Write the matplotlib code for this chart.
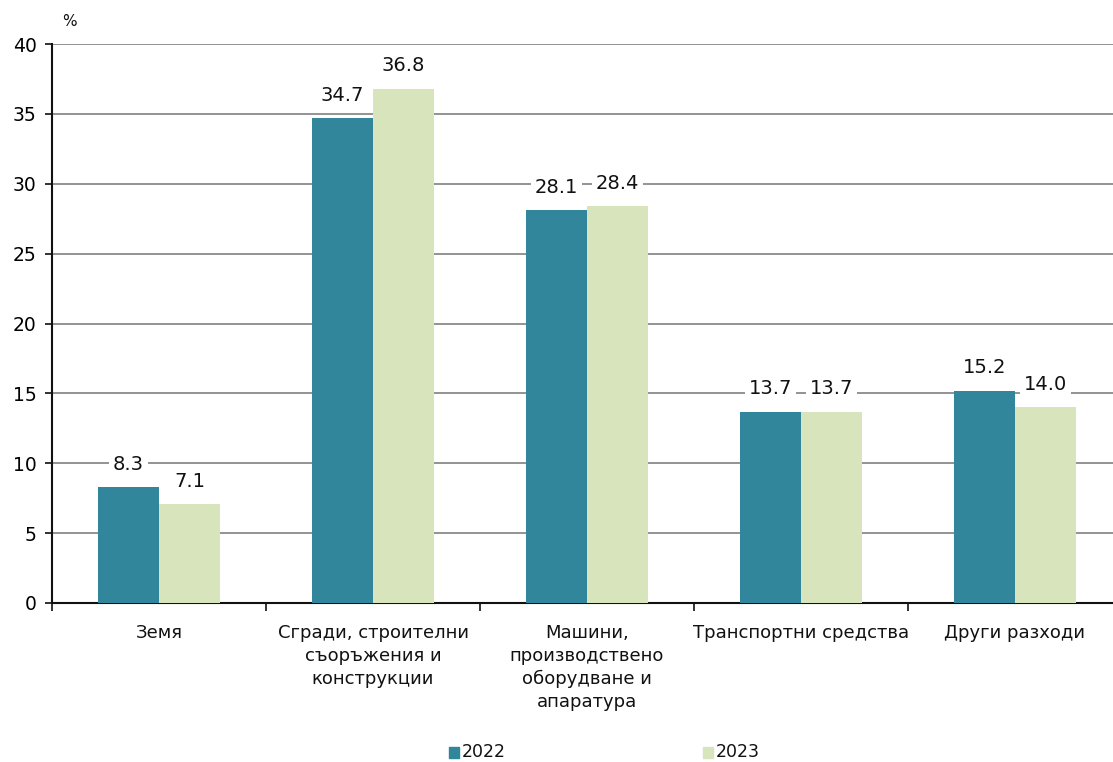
import matplotlib
matplotlib.use("Agg")
import matplotlib.pyplot as plt
import numpy as np
from matplotlib.patches import Rectangle

categories = ["Земя", "Сгради, строителни\nсъоръжения и\nконструкции",
              "Машини,\nпроизводствено\nоборудване и\nапаратура",
              "Транспортни средства", "Други разходи"]
values_2022 = [8.3, 34.7, 28.1, 13.7, 15.2]
values_2023 = [7.1, 36.8, 28.4, 13.7, 14.0]
series_labels = ["2022", "2023"]
yticks = [0, 5, 10, 15, 20, 25, 30, 35, 40]

c22 = "#31869B"
c23 = "#D8E4BC"

fig = plt.figure(figsize=(11.13, 7.62), dpi=100)
ax = fig.add_axes([52/1113, 1-603/762, (5*214)/1113, (603-44)/762])

x = np.arange(len(categories))
w = 0.285
ax.bar(x - w/2, values_2022, w, color=c22, zorder=3)
ax.bar(x + w/2, values_2023, w, color=c23, zorder=3)

for xs, vals in [(x - w/2, values_2022), (x + w/2, values_2023)]:
    for xi, v in zip(xs, vals):
        ax.text(xi, v + 0.95, f"{v:.1f}", ha="center", va="bottom", fontsize=14, color="#111111",
                zorder=4, bbox=dict(facecolor="white", edgecolor="none", pad=3))

ax.set_xlim(-0.5, len(categories) - 0.5)
ax.set_ylim(0, 40)
ax.set_yticks(yticks)
ax.set_yticklabels([str(t) for t in yticks], fontsize=13.5)
ax.yaxis.grid(True, color="#939393", linewidth=1.4, zorder=0)
ax.set_axisbelow(True)

ax.set_xticks(np.arange(len(categories) + 1) - 0.5, minor=False)
ax.set_xticklabels([])
ax.tick_params(axis="x", direction="out", length=6, width=1.3, color="#222222")
ax.tick_params(axis="y", direction="out", length=5, width=1.3, color="#222222", pad=6)
for xi, lab in zip(x, categories):
    ax.text(xi, -1.5, lab, ha="center", va="top", fontsize=13, color="#111111",
            linespacing=1.36)

for s in ["top", "right"]:
    ax.spines[s].set_visible(False)
ax.spines["left"].set_linewidth(1.5)
ax.spines["bottom"].set_linewidth(1.5)
ax.spines["left"].set_color("#111111")
ax.spines["bottom"].set_color("#111111")

fig.text(62/1113, 1-22/762, "%", fontsize=11, ha="left", va="center", color="#111111")

# legend
for lx, col, lab in [(449, c22, "2022"), (703, c23, "2023")]:
    fig.patches.append(Rectangle((lx/1113, 1-758/762), 10/1113, 11/762,
                                 transform=fig.transFigure, color=col))
    fig.text((lx+13)/1113, 1-752/762, lab, fontsize=12.5, ha="left", va="center", color="#111111")

fig.savefig("out.png", dpi=100)
